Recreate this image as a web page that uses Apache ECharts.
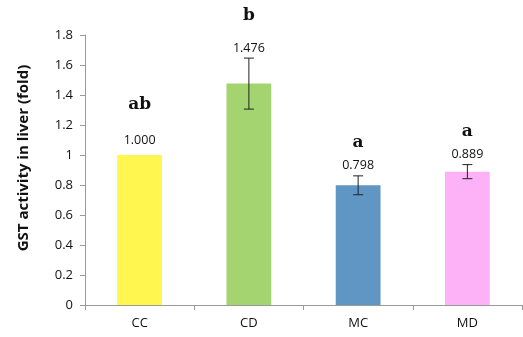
<!DOCTYPE html>
<html><head><meta charset="utf-8">
<script src="https://cdn.jsdelivr.net/npm/echarts@6/dist/echarts.min.js"></script>
<style>html,body{margin:0;padding:0;background:#fff}#c{width:523px;height:337px}</style>
</head><body><div id="c"></div>
<script>
const categories = ['CC', 'CD', 'MC', 'MD'];
const values = [1.000, 1.476, 0.798, 0.889];
const errors = [0, 0.17, 0.063, 0.047];
const valueLabels = ['1.000', '1.476', '0.798', '0.889'];
const sigLetters = ['ab', 'b', 'a', 'a'];
const yTicks = [0, 0.2, 0.4, 0.6, 0.8, 1, 1.2, 1.4, 1.6, 1.8];

const colors = ['#FFF650', '#A3D46F', '#6096C4', '#FDB1F6'];
const letterGap = [35, 33, 23, 23];

const chart = echarts.init(document.getElementById('c'), null, {renderer: 'canvas'});
chart.setOption({
  animation: false,
  grid: {left: 85, right: 1, top: 35, bottom: 32},
  xAxis: {
    type: 'category', data: categories,
    axisLine: {lineStyle: {color: '#9a9a9a', width: 1}},
    axisTick: {show: true, length: 5, lineStyle: {color: '#9a9a9a'}},
    axisLabel: {color: '#111', fontSize: 13, fontFamily: 'Open Sans', margin: 12}
  },
  yAxis: {
    type: 'value', min: 0, max: 1.8, interval: 0.2,
    name: 'GST activity in liver (fold)', nameLocation: 'middle', nameGap: 54,
    nameRotate: 90,
    nameTextStyle: {fontWeight: 'bold', fontSize: 15, color: '#111', fontFamily: 'Open Sans', padding: [0, 0, 0, 24]},
    axisLine: {show: true, lineStyle: {color: '#9a9a9a'}},
    axisTick: {show: true, length: 5, inside: false, lineStyle: {color: '#9a9a9a'}},
    splitLine: {show: false},
    axisLabel: {color: '#111', fontSize: 13, fontFamily: 'Open Sans', margin: 12,
      formatter: v => { const t = yTicks.find(x => Math.abs(x - v) < 1e-9); return t === undefined ? '' : String(t); }}
  },
  series: [
    {
      type: 'bar', barWidth: '41%',
      data: values.map((v, i) => ({value: v, itemStyle: {color: colors[i]}}))
    },
    {
      type: 'custom', clip: false, z: 5,
      data: values.map((v, i) => [i, v, errors[i]]),
      renderItem: function (params, api) {
        const i = api.value(0), v = api.value(1), e = api.value(2);
        const top = api.coord([i, v + e]);
        const bot = api.coord([i, v - e]);
        const children = [];
        if (e > 0) {
          const hw = 5;
          const st = {stroke: '#222', lineWidth: 1};
          children.push({type: 'line', shape: {x1: top[0], y1: top[1], x2: bot[0], y2: bot[1]}, style: st});
          children.push({type: 'line', shape: {x1: top[0] - hw, y1: top[1], x2: top[0] + hw, y2: top[1]}, style: st});
          children.push({type: 'line', shape: {x1: bot[0] - hw, y1: bot[1], x2: bot[0] + hw, y2: bot[1]}, style: st});
        }
        const labelY = top[1] - (e > 0 ? 10 : 15);
        children.push({type: 'text', style: {text: valueLabels[params.dataIndex], x: top[0], y: labelY,
          align: 'center', verticalAlign: 'middle', fill: '#111', font: '12.5px "Open Sans"'}});
        children.push({type: 'text', style: {text: sigLetters[params.dataIndex], x: top[0], y: labelY - letterGap[params.dataIndex],
          align: 'center', verticalAlign: 'middle', fill: '#111', font: 'bold 17px "DejaVu Serif"'}});
        return {type: 'group', children: children};
      }
    }
  ]
});
</script></body></html>
